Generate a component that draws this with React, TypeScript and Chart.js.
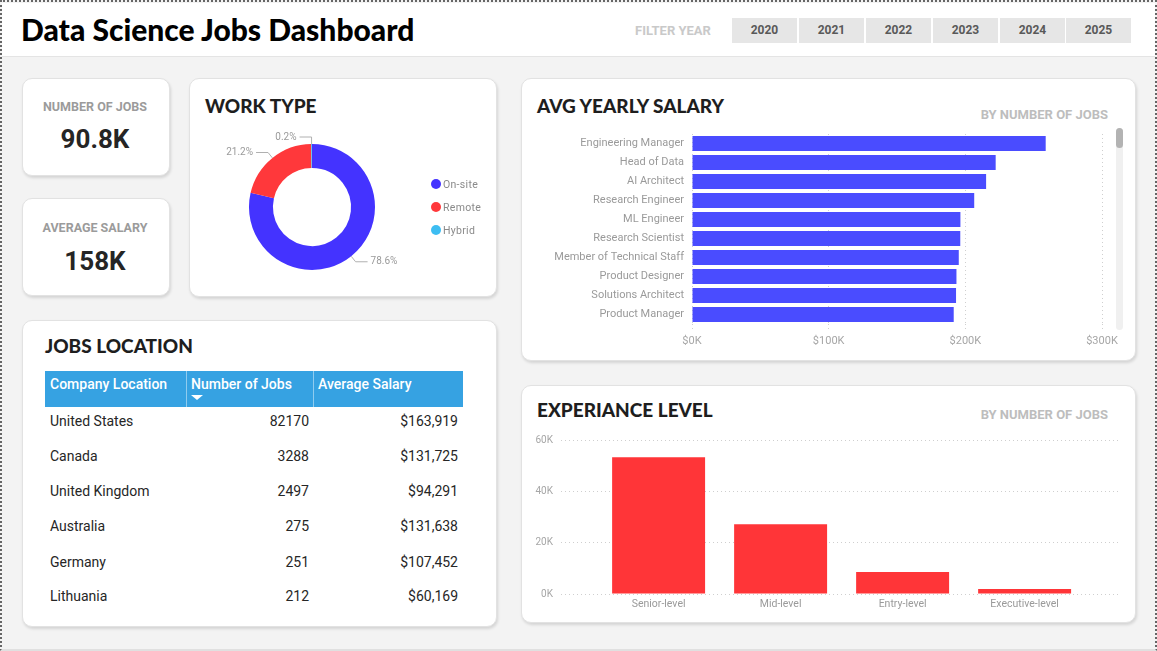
import React, { useEffect, useRef } from "react";
import { Chart, registerables } from "chart.js";

Chart.register(...registerables);

// ---- data ----
const filterYears = ["2020", "2021", "2022", "2023", "2024", "2025"];

const kpiJobsLabel = "NUMBER OF JOBS";
const kpiJobsValue = "90.8K";
const kpiSalaryLabel = "AVERAGE SALARY";
const kpiSalaryValue = "158K";

const workTypes = ["On-site", "Remote", "Hybrid"];
const workShares = [78.6, 21.2, 0.2];
const workColors = ["#4433ff", "#ff383b", "#3dbdf2"];

const locColumns = ["Company Location", "Number of Jobs", "Average Salary"];
const locCountries = ["United States", "Canada", "United Kingdom", "Australia", "Germany", "Lithuania"];
const locJobs = [82170, 3288, 2497, 275, 251, 212];
const locSalary = [163919, 131725, 94291, 131638, 107452, 60169];

const jobTitles = [
  "Engineering Manager",
  "Head of Data",
  "AI Architect",
  "Research Engineer",
  "ML Engineer",
  "Research Scientist",
  "Member of Technical Staff",
  "Product Designer",
  "Solutions Architect",
  "Product Manager",
];
const jobSalaries = [258800, 222200, 215200, 206500, 196400, 196300, 195200, 193500, 193200, 191500];
const salaryTicks = [0, 100000, 200000, 300000];

const expLevels = ["Senior-level", "Mid-level", "Entry-level", "Executive-level"];
const expJobs = [53300, 27200, 8600, 1900];
const expTicks = [0, 20000, 40000, 60000];

// ---- styling helpers ----
const W = 1157;
const H = 651;
const DIN = "Roboto, 'DejaVu Sans', sans-serif";
const HEAVY = "Lato, 'Open Sans', sans-serif";

type TxtProps = {
  x: number;
  y: number;
  size: number;
  weight?: number;
  color?: string;
  family?: string;
  align?: "left" | "right" | "center";
  spacing?: number;
  children: React.ReactNode;
};

function Txt({ x, y, size, weight = 400, color = "#222", family = DIN, align = "left", spacing = 0, children }: TxtProps) {
  const lh = Math.round(size * 1.25);
  const style: React.CSSProperties = {
    position: "absolute",
    top: y - lh / 2,
    lineHeight: lh + "px",
    fontSize: size,
    fontWeight: weight,
    color,
    fontFamily: family,
    whiteSpace: "nowrap",
    letterSpacing: spacing,
  };
  if (align === "left") style.left = x;
  else if (align === "right") style.right = W - x;
  else {
    style.left = x - 200;
    style.width = 400;
    style.textAlign = "center";
  }
  return <div style={style}>{children}</div>;
}

function Card({ x, y, w, h }: { x: number; y: number; w: number; h: number }) {
  return (
    <div
      style={{
        position: "absolute",
        left: x,
        top: y,
        width: w,
        height: h,
        boxSizing: "border-box",
        background: "#fff",
        border: "1px solid #e2e2e2",
        borderRadius: 10,
        boxShadow: "1px 2px 3px rgba(0,0,0,0.13)",
      }}
    />
  );
}

// leader-line labels around the doughnut
const donutLabelPlugin = {
  id: "donutLabels",
  afterDatasetsDraw(chart: any) {
    const ctx: CanvasRenderingContext2D = chart.ctx;
    const meta = chart.getDatasetMeta(0);
    const values: number[] = chart.data.datasets[0].data;
    const total = values.reduce((a, b) => a + b, 0);
    ctx.save();
    ctx.font = `10px ${DIN}`;
    ctx.fillStyle = "#9a9a9a";
    ctx.strokeStyle = "#b0b0b0";
    ctx.lineWidth = 1;
    ctx.textBaseline = "middle";
    meta.data.forEach((arc: any, i: number) => {
      const p = arc.getProps(["x", "y", "startAngle", "endAngle", "outerRadius"], true);
      const mid = (p.startAngle + p.endAngle) / 2;
      const cos = Math.cos(mid);
      const sin = Math.sin(mid);
      const x0 = p.x + cos * p.outerRadius;
      const y0 = p.y + sin * p.outerRadius;
      const x1 = p.x + cos * (p.outerRadius + 7);
      const y1 = p.y + sin * (p.outerRadius + 7);
      const dir = cos >= 0 ? 1 : -1;
      const x2 = x1 + dir * 12;
      ctx.beginPath();
      ctx.moveTo(x0, y0);
      ctx.lineTo(x1, y1);
      ctx.lineTo(x2, y1);
      ctx.stroke();
      ctx.textAlign = dir > 0 ? "left" : "right";
      const pct = ((values[i] / total) * 100).toFixed(1) + "%";
      ctx.fillText(pct, x2 + dir * 3, y1);
    });
    ctx.restore();
  },
};

export default function App() {
  const donutRef = useRef<HTMLCanvasElement>(null);
  const salaryRef = useRef<HTMLCanvasElement>(null);
  const expRef = useRef<HTMLCanvasElement>(null);

  useEffect(() => {
    Chart.defaults.font.family = DIN;
    const charts: Chart[] = [];

    if (donutRef.current) {
      charts.push(
        new Chart(donutRef.current, {
          type: "doughnut",
          data: {
            labels: workTypes,
            datasets: [{ data: workShares, backgroundColor: workColors, borderWidth: 0 }],
          },
          options: {
            responsive: false,
            animation: false,
            cutout: "62%",
            layout: { padding: { left: 60, top: 66, right: 121, bottom: 26 } },
            plugins: { legend: { display: false }, tooltip: { enabled: false } },
          },
          plugins: [donutLabelPlugin],
        } as any)
      );
    }

    if (salaryRef.current) {
      charts.push(
        new Chart(salaryRef.current, {
          type: "bar",
          data: {
            labels: jobTitles,
            datasets: [
              {
                data: jobSalaries,
                backgroundColor: "#4a4cff",
                borderWidth: 0,
                barPercentage: 0.79,
                categoryPercentage: 1,
              },
            ],
          },
          options: {
            indexAxis: "y",
            responsive: false,
            animation: false,
            layout: { padding: { top: 8, right: 28, left: 0, bottom: 0 } },
            plugins: { legend: { display: false }, tooltip: { enabled: false } },
            scales: {
              x: {
                min: 0,
                max: 300000,
                afterBuildTicks: (s: any) => {
                  s.ticks = salaryTicks.map((v) => ({ value: v }));
                },
                afterFit: (s: any) => {
                  s.height = 32;
                },
                ticks: {
                  color: "#a6a6a6",
                  font: { size: 11 },
                  padding: 5,
                  maxRotation: 0,
                  callback: (v: any) => "$" + Number(v) / 1000 + "K",
                },
                grid: {
                  color: "#cfcfcf",
                  drawTicks: true,
                  tickLength: 6,
                  tickColor: "#cfcfcf",
                  tickBorderDash: [1, 3],
                },
                border: { display: false, dash: [1, 3] },
              },
              y: {
                afterFit: (s: any) => {
                  s.width = 152;
                },
                ticks: { color: "#9a9a9a", font: { size: 11 }, padding: 0, autoSkip: false },
                grid: { display: false, drawTicks: true, tickLength: 8 },
                border: { display: false },
              },
            },
          },
        } as any)
      );
    }

    if (expRef.current) {
      charts.push(
        new Chart(expRef.current, {
          type: "bar",
          data: {
            datasets: [
              {
                data: expJobs.map((v, i) => ({ x: i, y: v })),
                backgroundColor: "#ff3538",
                borderWidth: 0,
                barPercentage: 0.762,
                categoryPercentage: 1,
              },
            ],
          },
          options: {
            responsive: false,
            animation: false,
            layout: { padding: { top: 15, right: 9, left: 0, bottom: 0 } },
            plugins: { legend: { display: false }, tooltip: { enabled: false } },
            scales: {
              x: {
                type: "linear",
                offset: false,
                min: -0.8,
                max: 3.79,
                afterBuildTicks: (s: any) => {
                  s.ticks = expLevels.map((_, i) => ({ value: i }));
                },
                afterFit: (s: any) => {
                  s.height = 20;
                },
                ticks: {
                  color: "#9a9a9a",
                  font: { size: 10.5 },
                  padding: 4,
                  autoSkip: false,
                  maxRotation: 0,
                  callback: (v: any) => expLevels[Math.round(Number(v))],
                },
                grid: { display: false, drawTicks: false, offset: false },
                border: { display: false },
              },
              y: {
                min: 0,
                max: 60000,
                afterBuildTicks: (s: any) => {
                  s.ticks = expTicks.map((v) => ({ value: v }));
                },
                afterFit: (s: any) => {
                  s.width = 31;
                },
                ticks: {
                  color: "#a6a6a6",
                  font: { size: 10 },
                  padding: 8,
                  callback: (v: any) => Number(v) / 1000 + "K",
                },
                grid: { color: "#cfcfcf", drawTicks: false },
                border: { display: false, dash: [1, 3] },
              },
            },
          },
        } as any)
      );
    }

    return () => charts.forEach((c) => c.destroy());
  }, []);

  const yearLefts = [732, 799, 866, 933, 1000, 1066];
  const rowYs = [421, 456, 491, 526, 561.5, 596];
  const legendYs = [184, 207, 230];

  return (
    <div
      style={{
        position: "fixed",
        left: 0,
        top: 0,
        width: W,
        height: H,
        overflow: "hidden",
        background: "#f3f3f3",
        fontFamily: DIN,
      }}
    >
      {/* header band */}
      <div
        style={{
          position: "absolute",
          left: 2,
          top: 3,
          width: W - 4,
          height: 53,
          background: "#fff",
          borderBottom: "1px solid #e4e4e4",
        }}
      />
      <Txt x={21} y={29} size={30} weight={900} color="#000" family={HEAVY}>
        Data Science Jobs Dashboard
      </Txt>
      <Txt x={635} y={31} size={13} weight={700} color="#c9c9c9">
        FILTER YEAR
      </Txt>
      {filterYears.map((yr, i) => (
        <div
          key={yr}
          style={{
            position: "absolute",
            left: yearLefts[i],
            top: 18,
            width: 65,
            height: 25,
            background: "#e6e6e6",
            color: "#595959",
            fontWeight: 700,
            fontSize: 12,
            lineHeight: "25px",
            textAlign: "center",
            fontFamily: DIN,
          }}
        >
          {yr}
        </div>
      ))}

      {/* cards */}
      <Card x={22} y={78} w={148} h={98} />
      <Card x={22} y={198} w={148} h={98} />
      <Card x={189} y={78} w={308} h={219} />
      <Card x={22} y={320} w={475} h={307} />
      <Card x={521} y={78} w={615} h={283} />
      <Card x={521} y={385} w={615} h={238} />

      {/* KPI cards */}
      <Txt x={95} y={107} size={12.5} weight={700} color="#9b9b9b" align="center">
        {kpiJobsLabel}
      </Txt>
      <Txt x={95} y={139} size={26} weight={700} color="#252525" align="center">
        {kpiJobsValue}
      </Txt>
      <Txt x={95} y={228} size={12.5} weight={700} color="#9b9b9b" align="center">
        {kpiSalaryLabel}
      </Txt>
      <Txt x={95} y={261} size={26} weight={700} color="#252525" align="center">
        {kpiSalaryValue}
      </Txt>

      {/* work type */}
      <Txt x={205} y={106} size={19} weight={900} color="#1e1e1e" family={HEAVY}>
        WORK TYPE
      </Txt>
      <canvas
        ref={donutRef}
        width={307}
        height={218}
        style={{ position: "absolute", left: 189, top: 78, width: 307, height: 218 }}
      />
      {workTypes.map((t, i) => (
        <React.Fragment key={t}>
          <div
            style={{
              position: "absolute",
              left: 431,
              top: legendYs[i] - 5,
              width: 10,
              height: 10,
              borderRadius: 5,
              background: workColors[i],
            }}
          />
          <Txt x={443} y={legendYs[i]} size={10.5} color="#8a8a8a" spacing={0.3}>
            {t}
          </Txt>
        </React.Fragment>
      ))}

      {/* jobs location table */}
      <Txt x={45} y={346} size={19} weight={900} color="#1e1e1e" family={HEAVY}>
        JOBS LOCATION
      </Txt>
      <div
        style={{ position: "absolute", left: 45, top: 371, width: 418, height: 36, background: "#36a2e2" }}
      />
      <div style={{ position: "absolute", left: 186, top: 371, width: 1, height: 36, background: "rgba(255,255,255,0.45)" }} />
      <div style={{ position: "absolute", left: 313, top: 371, width: 1, height: 36, background: "rgba(255,255,255,0.45)" }} />
      <Txt x={50} y={384} size={14} weight={500} color="#fff">
        {locColumns[0]}
      </Txt>
      <Txt x={191} y={384} size={14} weight={500} color="#fff">
        {locColumns[1]}
      </Txt>
      <Txt x={318} y={384} size={14} weight={500} color="#fff">
        {locColumns[2]}
      </Txt>
      <div
        style={{
          position: "absolute",
          left: 191,
          top: 395,
          width: 0,
          height: 0,
          borderLeft: "6px solid transparent",
          borderRight: "6px solid transparent",
          borderTop: "5px solid #fff",
        }}
      />
      {locCountries.map((c, i) => (
        <React.Fragment key={c}>
          <Txt x={50} y={rowYs[i]} size={14} color="#262626">
            {c}
          </Txt>
          <Txt x={309} y={rowYs[i]} size={14} color="#262626" align="right">
            {String(locJobs[i])}
          </Txt>
          <Txt x={458} y={rowYs[i]} size={14} color="#262626" align="right">
            {"$" + locSalary[i].toLocaleString("en-US")}
          </Txt>
        </React.Fragment>
      ))}

      {/* avg yearly salary */}
      <Txt x={537} y={106} size={19} weight={900} color="#1e1e1e" family={HEAVY}>
        AVG YEARLY SALARY
      </Txt>
      <Txt x={1108} y={115} size={13} weight={700} color="#bdbdbd" align="right">
        BY NUMBER OF JOBS
      </Txt>
      <canvas
        ref={salaryRef}
        width={590}
        height={230}
        style={{ position: "absolute", left: 540, top: 126, width: 590, height: 230 }}
      />
      <div
        style={{ position: "absolute", left: 1116, top: 128, width: 7, height: 202, borderRadius: 4, background: "#f0f0f0" }}
      />
      <div
        style={{ position: "absolute", left: 1116, top: 128, width: 7, height: 20, borderRadius: 4, background: "#b3b3b3" }}
      />

      {/* experience level */}
      <Txt x={537} y={410} size={19} weight={900} color="#1e1e1e" family={HEAVY}>
        EXPERIANCE LEVEL
      </Txt>
      <Txt x={1108} y={415} size={13} weight={700} color="#bdbdbd" align="right">
        BY NUMBER OF JOBS
      </Txt>
      <canvas
        ref={expRef}
        width={600}
        height={189}
        style={{ position: "absolute", left: 530, top: 425, width: 600, height: 189 }}
      />

      {/* dotted frame */}
      <div
        style={{
          position: "absolute",
          left: 0,
          top: 0,
          width: W,
          height: H,
          boxSizing: "border-box",
          borderTop: "2px dotted #666",
          borderLeft: "2px dotted #666",
          borderRight: "2px dotted #666",
          borderBottom: "2px solid #e0e0e0",
          pointerEvents: "none",
        }}
      />
    </div>
  );
}
